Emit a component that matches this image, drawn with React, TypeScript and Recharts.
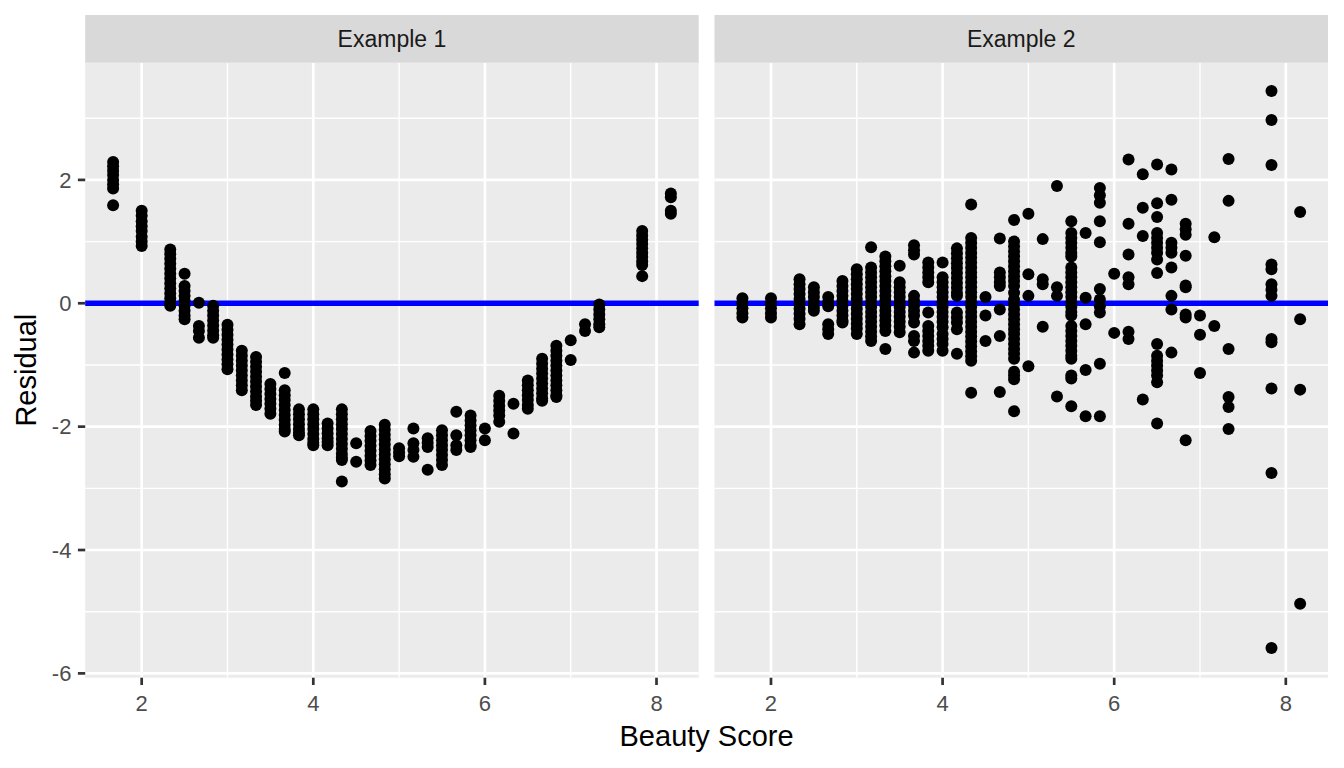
import React from 'react'
import { ScatterChart, Scatter, XAxis, YAxis, CartesianGrid, ReferenceLine } from 'recharts'

// beauty score levels (x positions of the point columns)
const scoreLevels = [
  1.667, 2, 2.333, 2.5, 2.667, 2.833, 3, 3.167, 3.333, 3.5, 3.667, 3.833, 4, 4.167, 4.333,
  4.5, 4.667, 4.833, 5, 5.167, 5.333, 5.5, 5.667, 5.833, 6, 6.167, 6.333, 6.5, 6.667, 6.833,
  7, 7.167, 7.333, 7.833, 8.167,
]

// residuals for each score level, Example 1
const example1Residuals: number[][] = [
  [2.29, 2.22, 2.15, 2.08, 2.0, 1.93, 1.86, 1.59],
  [1.5, 1.42, 1.33, 1.25, 1.17, 1.08, 1.0, 0.93],
  [0.87, 0.8, 0.72, 0.64, 0.56, 0.48, 0.4, 0.32, 0.24, 0.16, 0.08, 0.0, -0.04],
  [0.48, 0.28, 0.2, 0.12, 0.04, -0.04, -0.12, -0.2, -0.26],
  [0.01, -0.37, -0.45, -0.56],
  [-0.04, -0.12, -0.2, -0.28, -0.36, -0.44, -0.52, -0.56],
  [-0.35, -0.43, -0.51, -0.59, -0.67, -0.75, -0.83, -0.91, -0.99, -1.07],
  [-0.77, -0.85, -0.93, -1.01, -1.09, -1.17, -1.25, -1.33, -1.41],
  [-0.87, -0.95, -1.03, -1.11, -1.19, -1.27, -1.35, -1.43, -1.51, -1.58, -1.65],
  [-1.31, -1.39, -1.47, -1.55, -1.63, -1.71, -1.79],
  [-1.13, -1.41, -1.49, -1.57, -1.65, -1.73, -1.81, -1.89, -1.97, -2.04, -2.08],
  [-1.72, -1.8, -1.88, -1.96, -2.04, -2.1, -2.14],
  [-1.72, -1.8, -1.88, -1.96, -2.04, -2.12, -2.2, -2.26, -2.3],
  [-1.95, -2.03, -2.11, -2.19, -2.25, -2.3],
  [-1.72, -1.8, -1.88, -1.96, -2.04, -2.12, -2.2, -2.28, -2.36, -2.44, -2.5, -2.54, -2.89],
  [-2.27, -2.57],
  [-2.07, -2.15, -2.23, -2.31, -2.39, -2.47, -2.55, -2.62],
  [-1.97, -2.05, -2.13, -2.21, -2.29, -2.37, -2.45, -2.53, -2.61, -2.69, -2.77, -2.84],
  [-2.35, -2.42, -2.48],
  [-2.03, -2.27, -2.38, -2.49],
  [-2.19, -2.26, -2.33, -2.7],
  [-2.06, -2.14, -2.22, -2.3, -2.38, -2.46, -2.54, -2.62],
  [-1.76, -2.14, -2.3, -2.38],
  [-1.82, -1.9, -1.98, -2.06, -2.14, -2.22, -2.3, -2.33],
  [-2.03, -2.22],
  [-1.5, -1.58, -1.66, -1.74, -1.82, -1.92],
  [-1.63, -2.11],
  [-1.25, -1.33, -1.41, -1.49, -1.57, -1.65, -1.71],
  [-0.9, -0.98, -1.06, -1.14, -1.22, -1.3, -1.38, -1.46, -1.54, -1.58],
  [-0.69, -0.77, -0.85, -0.93, -1.01, -1.09, -1.17, -1.25, -1.33, -1.41, -1.49, -1.52],
  [-0.6, -0.92],
  [-0.34, -0.45],
  [-0.02, -0.1, -0.18, -0.26, -0.34, -0.39],
  [1.17, 1.1, 1.03, 0.96, 0.89, 0.82, 0.75, 0.68, 0.62, 0.44],
  [1.78, 1.72, 1.5, 1.45],
]

// residuals for each score level, Example 2
const example2Residuals: number[][] = [
  [0.08, 0.0, -0.08, -0.16, -0.23],
  [0.08, 0.0, -0.08, -0.16, -0.23],
  [0.39, 0.31, 0.23, 0.15, 0.07, -0.01, -0.09, -0.17, -0.25, -0.34],
  [0.26, 0.18, 0.1, 0.02, -0.06, -0.12],
  [0.1, 0.02, -0.05, -0.34, -0.42, -0.5],
  [0.36, 0.28, 0.2, 0.12, 0.04, -0.04, -0.12, -0.2, -0.28, -0.31],
  [0.55, 0.47, 0.39, 0.31, 0.23, 0.15, 0.07, -0.01, -0.09, -0.17, -0.25, -0.33, -0.41, -0.5],
  [0.91, 0.58, 0.5, 0.42, 0.34, 0.26, 0.18, 0.1, 0.02, -0.06, -0.14, -0.22, -0.3, -0.38, -0.46, -0.54, -0.61],
  [0.76, 0.68, 0.6, 0.52, 0.44, 0.36, 0.28, 0.2, 0.12, 0.04, -0.04, -0.12, -0.2, -0.28, -0.36, -0.45, -0.74],
  [0.61, 0.34, 0.26, 0.18, 0.1, 0.02, -0.06, -0.14, -0.22, -0.3, -0.38, -0.47],
  [0.94, 0.86, 0.79, 0.12, 0.04, -0.04, -0.12, -0.2, -0.31, -0.53, -0.61, -0.8],
  [0.66, 0.58, 0.5, 0.42, 0.34, -0.15, -0.37, -0.45, -0.53, -0.61, -0.69, -0.77],
  [0.66, 0.42, 0.34, 0.26, 0.18, 0.1, 0.02, -0.06, -0.14, -0.22, -0.3, -0.39, -0.5, -0.58, -0.66, -0.77],
  [0.89, 0.81, 0.73, 0.65, 0.57, 0.49, 0.41, 0.33, 0.25, 0.17, 0.12, -0.15, -0.23, -0.31, -0.42, -0.82],
  [1.6, 1.06, 0.98, 0.9, 0.82, 0.74, 0.66, 0.58, 0.5, 0.42, 0.34, 0.26, 0.18, 0.1, 0.02, -0.06, -0.14,
    -0.22, -0.3, -0.38, -0.46, -0.54, -0.62, -0.7, -0.78, -0.86, -0.93, -1.45],
  [0.1, -0.2, -0.61],
  [1.05, 0.5, 0.42, 0.34, 0.28, -0.1, -0.53, -1.44],
  [1.35, 1.0, 0.92, 0.84, 0.76, 0.68, 0.6, 0.52, 0.44, 0.36, 0.28, 0.17, 0.06, -0.02, -0.1, -0.18, -0.26,
    -0.34, -0.42, -0.5, -0.58, -0.66, -0.74, -0.82, -0.9, -1.11, -1.17, -1.23, -1.75],
  [1.45, 0.47, 0.12, -1.02],
  [1.04, 0.39, 0.31, -0.38],
  [1.9, 0.26, 0.12, -1.51],
  [1.33, 1.14, 1.06, 0.98, 0.9, 0.82, 0.76, 0.58, 0.5, 0.42, 0.34, 0.26, 0.18, 0.1, 0.02, -0.06, -0.14,
    -0.2, -0.37, -0.45, -0.53, -0.61, -0.69, -0.77, -0.85, -0.9, -1.17, -1.22, -1.67],
  [1.14, 0.09, -0.34, -1.08, -1.83],
  [1.87, 1.75, 1.63, 1.33, 0.99, 0.23, 0.06, -0.05, -0.15, -0.98, -1.83],
  [0.48, -0.48],
  [2.33, 1.29, 0.79, 0.42, 0.31, -0.46, -0.58],
  [2.09, 1.55, 1.09, -1.56],
  [2.25, 1.62, 1.4, 1.14, 1.06, 0.98, 0.9, 0.82, 0.71, 0.49, -0.66, -0.85, -0.93, -1.01, -1.09, -1.17, -1.28, -1.95],
  [2.17, 1.68, 0.98, 0.9, 0.82, 0.58, 0.12, -0.1, -0.8],
  [1.29, 1.2, 1.11, 0.77, 0.29, 0.26, -0.18, -0.23, -2.22],
  [-0.2, -0.51, -1.13],
  [1.07, -0.37],
  [2.34, 1.66, -0.74, -1.52, -1.68, -2.04],
  [3.44, 2.97, 2.24, 0.63, 0.55, 0.31, 0.22, 0.12, -0.58, -0.63, -1.38, -2.75, -5.59],
  [1.48, -0.26, -1.4, -4.87],
]

const panelTitles = ['Example 1', 'Example 2']
const xTicks = [2, 4, 6, 8]
const xMinor = [3, 5, 7]
const yTicks = [-6, -4, -2, 0, 2]
const yMinor = [-5, -3, -1, 1, 3]
const xDomain: [number, number] = [1.3417, 8.4917]
const yDomain: [number, number] = [-6.07, 3.9]

const toPoints = (cols: number[][]) =>
  cols.flatMap((ys, i) => ys.map((y) => ({ x: scoreLevels[i], y })))

const FONT = '"Liberation Sans", Arial, sans-serif'
const PLOT_TOP = 62.7
const PLOT_BOTTOM = 677.7
const PLOT_W = 613.5
const P1_LEFT = 85.2
const P2_LEFT = 714.5

const Dot = (props: any) =>
  props.cx == null ? null : <circle cx={props.cx} cy={props.cy} r={6} fill="#000000" />

type PanelProps = {
  points: Array<{ x: number; y: number }>
  showY: boolean
  width: number
  marginLeft: number
  marginRight: number
}

const Panel = ({ points, showY, width, marginLeft, marginRight }: PanelProps) => (
  <ScatterChart
    width={width}
    height={768}
    margin={{ top: PLOT_TOP, right: marginRight, bottom: 0, left: marginLeft }}
  >
    <CartesianGrid
      horizontalValues={yMinor}
      verticalValues={xMinor}
      stroke="#FFFFFF"
      strokeWidth={1.4}
      fill="#EBEBEB"
      fillOpacity={1}
    />
    <CartesianGrid
      horizontalValues={yTicks}
      verticalValues={xTicks}
      stroke="#FFFFFF"
      strokeWidth={2.7}
    />
    <XAxis
      type="number"
      dataKey="x"
      domain={xDomain}
      ticks={xTicks}
      allowDataOverflow
      axisLine={false}
      tickSize={7.3}
      tickMargin={10}
      height={768 - PLOT_BOTTOM}
      tickLine={{ stroke: '#333333', strokeWidth: 2.7 }}
      tick={{ fill: '#4D4D4D', fontSize: 22, fontFamily: FONT }}
    />
    <YAxis
      type="number"
      dataKey="y"
      domain={yDomain}
      ticks={yTicks}
      allowDataOverflow
      hide={!showY}
      width={P1_LEFT}
      axisLine={false}
      tickSize={7.3}
      tickMargin={6.5}
      tickLine={{ stroke: '#333333', strokeWidth: 2.7 }}
      tick={{ fill: '#4D4D4D', fontSize: 22, fontFamily: FONT }}
    />
    <Scatter data={points} shape={Dot} isAnimationActive={false} />
    <ReferenceLine y={0} stroke="#0000FF" strokeWidth={5.7} />
  </ScatterChart>
)

export default function App() {
  return (
    <div
      style={{
        position: 'absolute',
        left: 0,
        top: 0,
        width: 1344,
        height: 768,
        background: '#FFFFFF',
        fontFamily: FONT,
      }}
    >
      <div style={{ position: 'absolute', left: 0, top: 0 }}>
        <Panel points={toPoints(example1Residuals)} showY width={700} marginLeft={0} marginRight={700 - P1_LEFT - PLOT_W} />
      </div>
      <div style={{ position: 'absolute', left: 700, top: 0 }}>
        <Panel points={toPoints(example2Residuals)} showY={false} width={644} marginLeft={P2_LEFT - 700} marginRight={644 - (P2_LEFT - 700) - PLOT_W} />
      </div>
      <svg
        width={1344}
        height={768}
        style={{ position: 'absolute', left: 0, top: 0, pointerEvents: 'none' }}
      >
        {[P1_LEFT, P2_LEFT].map((left, i) => (
          <g key={i}>
            <rect x={left} y={15} width={PLOT_W} height={PLOT_TOP - 15} fill="#D9D9D9" />
            <text x={left + PLOT_W / 2} y={47} textAnchor="middle" fontSize={23} fill="#1A1A1A" fontFamily={FONT}>
              {panelTitles[i]}
            </text>
          </g>
        ))}
        <text x={(P1_LEFT + P2_LEFT + PLOT_W) / 2} y={746} textAnchor="middle" fontSize={29} fill="#000000" fontFamily={FONT}>
          Beauty Score
        </text>
        <text
          x={36.5}
          y={(PLOT_TOP + PLOT_BOTTOM) / 2}
          textAnchor="middle"
          fontSize={29}
          fill="#000000"
          fontFamily={FONT}
          transform={`rotate(-90 36.5 ${(PLOT_TOP + PLOT_BOTTOM) / 2})`}
        >
          Residual
        </text>
      </svg>
    </div>
  )
}
